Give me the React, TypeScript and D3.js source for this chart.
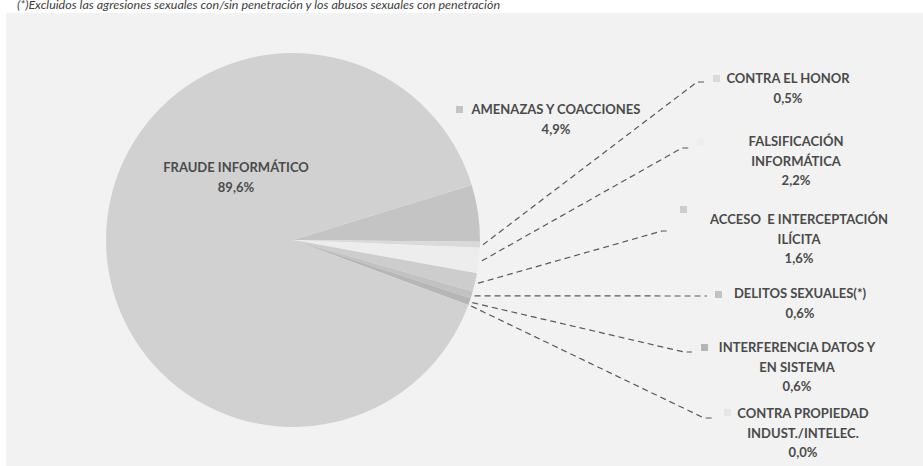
import React from "react";
import * as d3 from "d3";

const categories = [
  "AMENAZAS Y COACCIONES",
  "CONTRA EL HONOR",
  "FALSIFICACIÓN INFORMÁTICA",
  "ACCESO  E INTERCEPTACIÓN ILÍCITA",
  "DELITOS SEXUALES(*)",
  "INTERFERENCIA DATOS Y EN SISTEMA",
  "CONTRA PROPIEDAD INDUST./INTELEC.",
  "FRAUDE INFORMÁTICO",
];
const values = [4.9, 0.5, 2.2, 1.6, 0.6, 0.6, 0.0, 89.6];
const valueLabels = ["4,9%", "0,5%", "2,2%", "1,6%", "0,6%", "0,6%", "0,0%", "89,6%"];
const labelLines = [
  ["AMENAZAS Y COACCIONES"],
  ["CONTRA EL HONOR"],
  ["FALSIFICACIÓN", "INFORMÁTICA"],
  ["ACCESO  E INTERCEPTACIÓN", "ILÍCITA"],
  ["DELITOS SEXUALES(*)"],
  ["INTERFERENCIA DATOS Y", "EN SISTEMA"],
  ["CONTRA PROPIEDAD", "INDUST./INTELEC."],
  ["FRAUDE INFORMÁTICO"],
];
const caption =
  "(*)Excluidos las agresiones sexuales con/sin penetración y los abusos sexuales con penetración";

const colors = ["#c4c4c4", "#dadada", "#ededed", "#cdcdcd", "#c2c2c2", "#b6b6b6", "#e6e6e6", "#d1d1d1"];

// layout: label text center x, first-line y, marker x,y, leader end x,y (null = no leader)
const layout = [
  { tx: 556, ty: 114, mx: 456, my: 106, lx: null, ly: null },
  { tx: 788, ty: 83, mx: 713, my: 75, lx: 705, ly: 82 },
  { tx: 796, ty: 146, mx: 697, my: 139, lx: 690, ly: 148 },
  { tx: 799, ty: 224, mx: 680, my: 206, lx: 670, ly: 231 },
  { tx: 800, ty: 298, mx: 715, my: 291, lx: 707, ly: 296 },
  { tx: 797, ty: 352, mx: 701, my: 344, lx: 692, ly: 352 },
  { tx: 803, ty: 418, mx: 724, my: 409, lx: 712, ly: 418 },
  { tx: 236, ty: 172, mx: null, my: null, lx: null, ly: null },
];

export default function App() {
  const W = 923;
  const H = 466;
  const cx = 293;
  const cy = 240;
  const R = 187;
  const start = (72.9 * Math.PI) / 180;
  const pie = d3
    .pie<number>()
    .sort(null)
    .value((d) => d)
    .startAngle(start)
    .endAngle(start + 2 * Math.PI);
  const arcs = pie(values);
  const arc = d3.arc<d3.PieArcDatum<number>>().innerRadius(0).outerRadius(R);
  const font = "Lato, 'Open Sans', sans-serif";
  return (
    <svg
      width={W}
      height={H}
      style={{ position: "absolute", left: 0, top: 0, background: "#fff" }}
    >
      <rect x={6} y={13} width={W - 6} height={H - 13} fill="#f2f2f2" />
      <text
        x={17}
        y={9}
        fontFamily={font}
        fontStyle="italic"
        fontSize={10.5}
        fill="#404040"
        textLength={483}
        lengthAdjust="spacingAndGlyphs"
      >
        {caption}
      </text>
      <g transform={`translate(${cx},${cy})`}>
        {arcs.map((a, i) => (
          <path key={i} d={arc(a) || ""} fill={colors[i]} />
        ))}
      </g>
      {arcs.map((a, i) => {
        const L = layout[i];
        if (L.lx == null) return null;
        const mid = (a.startAngle + a.endAngle) / 2;
        const r0 = R + 3;
        const x0 = cx + r0 * Math.sin(mid);
        const y0 = cy - r0 * Math.cos(mid);
        const bendX = L.lx - 8;
        return (
          <path
            key={"l" + i}
            d={`M${x0},${y0}L${bendX},${L.ly}L${L.lx},${L.ly}`}
            fill="none"
            stroke="#595959"
            strokeWidth={1.2}
            strokeDasharray="6,4"
          />
        );
      })}
      {layout.map((L, i) => (
        <g key={"t" + i}>
          {L.mx != null && (
            <rect x={L.mx} y={L.my} width={7} height={7} fill={colors[i]} />
          )}
          <text
            x={L.tx}
            y={L.ty}
            textAnchor="middle"
            fontFamily={font}
            fontWeight="bold"
            fontSize={13}
            fill="#4a4a4a"
            style={{ whiteSpace: "pre" }}
          >
            {labelLines[i].map((t, j) => (
              <tspan key={j} x={L.tx} dy={j === 0 ? 0 : 19.5}>
                {t}
              </tspan>
            ))}
            <tspan x={L.tx} dy={19.5}>
              {valueLabels[i]}
            </tspan>
          </text>
        </g>
      ))}
    </svg>
  );
}
